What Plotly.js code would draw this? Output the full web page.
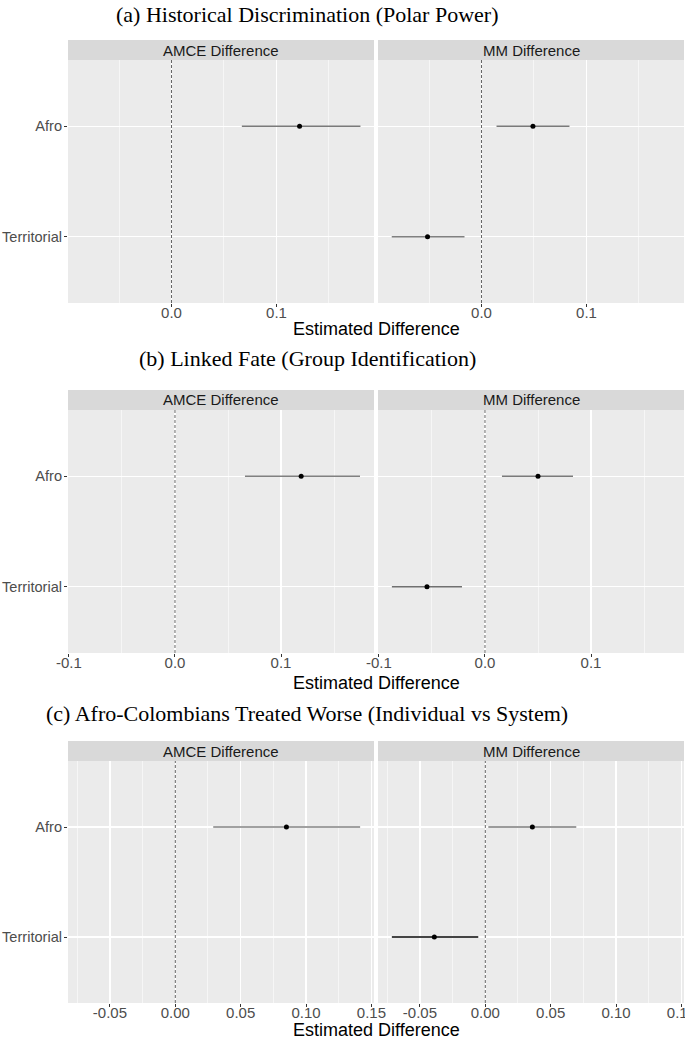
<!DOCTYPE html>
<html>
<head>
<meta charset="utf-8">
<script src="https://cdn.plot.ly/plotly-3.0.1.min.js"></script>
<style>html,body{margin:0;padding:0;background:#fff;}#chart{width:685px;height:1039px;}</style>
</head>
<body>
<div id="chart"></div>
<script>
// ---------- data ----------
const categories = ['Territorial', 'Afro'];
const panelTitles = [
  '(a) Historical Discrimination (Polar Power)',
  '(b) Linked Fate (Group Identification)',
  '(c) Afro-Colombians Treated Worse (Individual vs System)'
];
const facetLabels = ['AMCE Difference', 'MM Difference'];
const xAxisTitle = 'Estimated Difference';

// AMCE difference (Afro only)
const amceEst = [0.122, 0.119, 0.085];
const amceLo  = [0.067, 0.066, 0.029];
const amceHi  = [0.180, 0.1745, 0.1414];
// MM difference
const mmAfroEst = [0.049, 0.050, 0.036];
const mmAfroLo  = [0.0143, 0.016, 0.0023];
const mmAfroHi  = [0.0838, 0.083, 0.0696];
const mmTerrEst = [-0.0514, -0.0547, -0.039];
const mmTerrLo  = [-0.0855, -0.0878, -0.0715];
const mmTerrHi  = [-0.0162, -0.0217, -0.0054];

const refValue = 0;

// tick labels per panel
const tickValsA = [0, 0.1];                 const tickTextA = ['0.0', '0.1'];
const minorValsA = [-0.05, 0.05, 0.15];
const tickValsB = [-0.1, 0, 0.1];           const tickTextB = ['-0.1', '0.0', '0.1'];
const minorValsB = [-0.05, 0.05, 0.15];
const tickValsC = [-0.05, 0, 0.05, 0.1, 0.15]; const tickTextC = ['-0.05', '0.00', '0.05', '0.10', '0.15'];
const minorValsC = [-0.075, -0.025, 0.025, 0.075, 0.125];

// ---------- layout geometry ----------
const W = 685, H = 1039;
const px = v => v / W;
const py = v => 1 - v / H;

const panels = [
  {top: 60,  bottom: 303,  range: [-0.0986, 0.1929], tv: tickValsA, tt: tickTextA, mv: minorValsA, titleY: 15,  axTitleY: 329},
  {top: 410, bottom: 653,  range: [-0.1009, 0.1877], tv: tickValsB, tt: tickTextB, mv: minorValsB, titleY: 359, axTitleY: 683},
  {top: 761, bottom: 1003, range: [-0.0821, 0.1520], tv: tickValsC, tt: tickTextC, mv: minorValsC, titleY: 713, axTitleY: 1030}
];
const cols = [[68, 374], [378, 684]];

const sansFont = 'Liberation Sans, Arial, sans-serif';
const traces = [];
const layout = {
  width: W, height: H,
  margin: {l: 0, r: 0, t: 0, b: 0},
  paper_bgcolor: '#ffffff',
  plot_bgcolor: '#EBEBEB',
  showlegend: false,
  shapes: [], annotations: []
};

const errColors = [
  {amce: '#7a7a7a', afro: '#7a7a7a', terr: '#808080'},
  {amce: '#808080', afro: '#7a7a7a', terr: '#707070'},
  {amce: '#808080', afro: '#7a7a7a', terr: '#444444'}
];

panels.forEach((p, pi) => {
  cols.forEach((c, ci) => {
    const n = pi * 2 + ci + 1;
    const xa = n === 1 ? 'x' : 'x' + n;
    const ya = n === 1 ? 'y' : 'y' + n;
    const xk = n === 1 ? 'xaxis' : 'xaxis' + n;
    const yk = n === 1 ? 'yaxis' : 'yaxis' + n;

    layout[xk] = {
      domain: [px(c[0]), px(c[1])],
      anchor: ya,
      range: p.range,
      tickmode: 'array', tickvals: p.tv, ticktext: p.tt,
      showgrid: true, gridcolor: '#ffffff', gridwidth: 1.1,
      zeroline: false, showline: false,
      ticks: 'outside', ticklen: 3, tickwidth: 1, tickcolor: '#333333',
      ticklabelstandoff: -7,
      ticklabeloverflow: 'allow',
      tickfont: {family: sansFont, size: 15, color: '#4D4D4D'},
      minor: {tickmode: 'array', tickvals: p.mv, showgrid: true, gridcolor: '#ffffff', gridwidth: 0.55, ticks: ''},
      fixedrange: true
    };
    layout[yk] = {
      domain: [py(p.bottom), py(p.top)],
      anchor: xa,
      type: 'category',
      categoryorder: 'array', categoryarray: categories,
      range: [-0.6, 1.6],
      showgrid: true, gridcolor: '#ffffff', gridwidth: 1.1,
      zeroline: false, showline: false,
      showticklabels: ci === 0,
      ticks: ci === 0 ? 'outside' : '', ticklen: 3, tickcolor: '#333333',
      ticklabelstandoff: -1,
      ticklabeloverflow: 'allow',
      tickfont: {family: sansFont, size: 14.6, color: '#4D4D4D'},
      fixedrange: true
    };

    // zero reference line
    layout.shapes.push({
      type: 'line', xref: xa, yref: ya + ' domain',
      x0: refValue, x1: refValue, y0: 0, y1: 1,
      line: {color: '#555555', width: 0.9, dash: '3px,2px'}, layer: 'above'
    });

    // strip
    const stripTop = p.top - 20;
    layout.shapes.push({
      type: 'rect', xref: 'paper', yref: 'paper',
      x0: px(c[0]), x1: px(c[1]), y0: py(p.top), y1: py(stripTop),
      fillcolor: '#D9D9D9', line: {width: 0}, layer: 'below'
    });
    layout.annotations.push({
      xref: 'paper', yref: 'paper',
      x: px((c[0] + c[1]) / 2), y: py((stripTop + p.top) / 2),
      text: facetLabels[ci], showarrow: false,
      xanchor: 'center', yanchor: 'middle',
      font: {family: sansFont, size: 15, color: '#1A1A1A'}
    });

    if (ci === 0) {
      traces.push({
        type: 'scatter', mode: 'markers', xaxis: xa, yaxis: ya,
        x: [amceEst[pi]], y: ['Afro'],
        error_x: {type: 'data', symmetric: false,
          array: [amceHi[pi] - amceEst[pi]], arrayminus: [amceEst[pi] - amceLo[pi]],
          width: 0, thickness: 1.5, color: errColors[pi].amce},
        marker: {color: '#000000', size: 5},
        hoverinfo: 'skip'
      });
    } else {
      traces.push({
        type: 'scatter', mode: 'markers', xaxis: xa, yaxis: ya,
        x: [mmAfroEst[pi]], y: ['Afro'],
        error_x: {type: 'data', symmetric: false,
          array: [mmAfroHi[pi] - mmAfroEst[pi]], arrayminus: [mmAfroEst[pi] - mmAfroLo[pi]],
          width: 0, thickness: 1.5, color: errColors[pi].afro},
        marker: {color: '#000000', size: 5},
        hoverinfo: 'skip'
      });
      traces.push({
        type: 'scatter', mode: 'markers', xaxis: xa, yaxis: ya,
        x: [mmTerrEst[pi]], y: ['Territorial'],
        error_x: {type: 'data', symmetric: false,
          array: [mmTerrHi[pi] - mmTerrEst[pi]], arrayminus: [mmTerrEst[pi] - mmTerrLo[pi]],
          width: 0, thickness: pi === 2 ? 2 : 1.5, color: errColors[pi].terr},
        marker: {color: '#000000', size: 5},
        hoverinfo: 'skip'
      });
    }
  });

  // panel title
  layout.annotations.push({
    xref: 'paper', yref: 'paper', x: px(307), y: py(p.titleY),
    text: panelTitles[pi], showarrow: false, xanchor: 'center', yanchor: 'middle',
    font: {family: 'Liberation Serif, DejaVu Serif, serif', size: 22, color: '#000000'}
  });
  // x axis title
  layout.annotations.push({
    xref: 'paper', yref: 'paper', x: px(376), y: py(p.axTitleY),
    text: xAxisTitle, showarrow: false, xanchor: 'center', yanchor: 'middle',
    font: {family: sansFont, size: 18, color: '#000000'}
  });
});

Plotly.newPlot('chart', traces, layout, {displayModeBar: false, staticPlot: true});
</script>
</body>
</html>
